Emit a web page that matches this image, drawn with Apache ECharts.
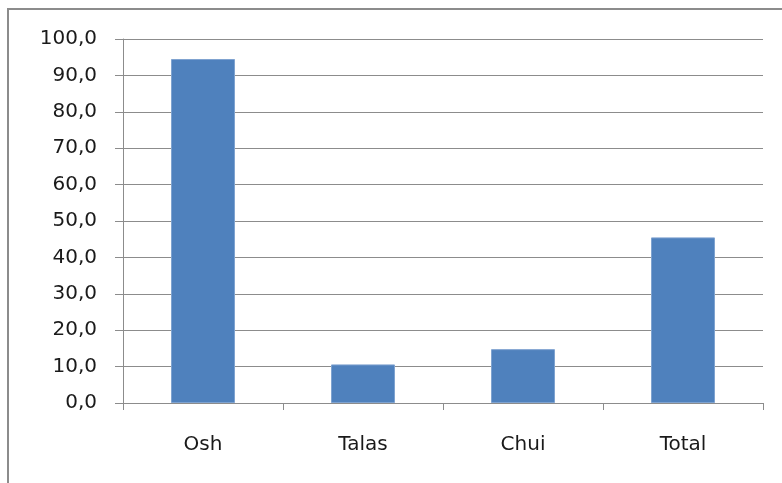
<!DOCTYPE html>
<html>
<head>
<meta charset="utf-8">
<script src="https://cdn.jsdelivr.net/npm/echarts@6/dist/echarts.min.js"></script>
<style>
  html, body { margin: 0; padding: 0; background: #fff; }
  #chart1 { width: 782px; height: 483px; }
</style>
</head>
<body>
<div id="chart1"></div>
<script>
// regions and shares
const regions = ["Osh", "Talas", "Chui", "Total"];
const values = [94.5, 10.6, 14.8, 45.5];
const yTicks = [0, 10, 20, 30, 40, 50, 60, 70, 80, 90, 100];

const chart = echarts.init(document.getElementById("chart1"));

const labelFont = "DejaVu Sans, sans-serif";

const option = {
  backgroundColor: "#fff",
  animation: false,
  graphic: [
    {
      type: "rect",
      shape: { x: 8, y: 9, width: 800, height: 500 },
      style: { fill: "none", stroke: "#8c8c8c", lineWidth: 2 },
    },
  ],
  grid: { left: 123, right: 19, top: 39, bottom: 80 },
  xAxis: {
    type: "category",
    data: regions,
    axisLine: { lineStyle: { color: "#8c8c8c" } },
    axisTick: { show: true, length: 7, lineStyle: { color: "#8c8c8c" } },
    axisLabel: {
      color: "#1a1a1a",
      fontSize: 20,
      fontFamily: labelFont,
      margin: 32,
    },
  },
  yAxis: {
    type: "value",
    min: yTicks[0],
    max: yTicks[yTicks.length - 1],
    interval: 10,
    axisLine: { show: true, lineStyle: { color: "#8c8c8c" } },
    axisTick: { show: true, length: 8, lineStyle: { color: "#8c8c8c" } },
    splitLine: { lineStyle: { color: "#8c8c8c" } },
    axisLabel: {
      color: "#1a1a1a",
      fontSize: 20,
      fontFamily: labelFont,
      margin: 26,
      formatter: (v) => v.toFixed(1).replace(".", ","),
    },
  },
  series: [
    {
      type: "bar",
      data: values,
      barWidth: "40%",
      itemStyle: { color: "#4f81bd", borderColor: "#7fa3d0", borderWidth: 1 },
    },
  ],
};

chart.setOption(option);
</script>
</body>
</html>
